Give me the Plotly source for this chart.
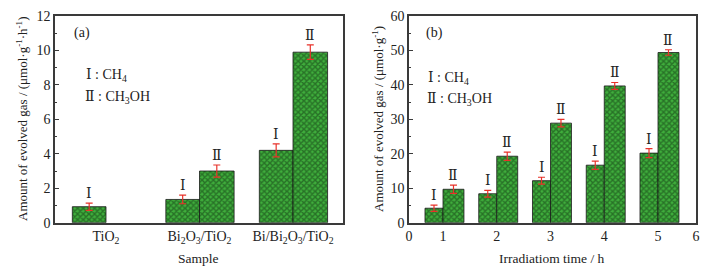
import plotly.graph_objects as go

# ---- data: panel (a)
samples = ["TiO<sub>2</sub>", "Bi<sub>2</sub>O<sub>3</sub>/TiO<sub>2</sub>", "Bi/Bi<sub>2</sub>O<sub>3</sub>/TiO<sub>2</sub>"]
a_ch4 = [0.93, 1.35, 4.2]
a_ch4_err = [0.21, 0.25, 0.38]
a_ch3oh = [None, 3.0, 9.9]
a_ch3oh_err = [0.0, 0.35, 0.42]

# ---- data: panel (b)
hours = [1, 2, 3, 4, 5]
b_ch4 = [4.2, 8.4, 12.2, 16.7, 20.2]
b_ch4_err = [0.9, 1.0, 1.0, 1.2, 1.3]
b_ch3oh = [9.7, 19.3, 28.9, 39.7, 49.4]
b_ch3oh_err = [1.2, 1.2, 1.1, 1.0, 0.8]
b_ticktext = ["0", "1", "2", "3", "4", "5", "6"]

W, H = 706, 274
FONT = "Liberation Serif, Times New Roman, serif"
NUMFONT = "DejaVu Serif, Liberation Serif, serif"
BAR_BG = "#3fae3c"
BAR_FG = "#123512"
ERR = "#e8322a"
AX = "#3a3a3a"

def px(x):
    return x / W

def py(y):
    return 1 - y / H

fig = go.Figure()

pattern = dict(shape="x", fgcolor=BAR_FG, bgcolor=BAR_BG, size=4, solidity=0.6, fillmode="overlay")

def add_bars(xs, ys, errs, offset, width, xa, ya):
    fig.add_trace(go.Bar(
        x=xs, y=ys, offset=offset, width=width,
        marker=dict(color=BAR_BG, line=dict(color="#1a1a1a", width=0.8), pattern=pattern),
        error_y=dict(type="data", array=errs, color=ERR, thickness=1.2, width=3.5, visible=True),
        xaxis=xa, yaxis=ya, showlegend=False, hoverinfo="skip",
    ))

a_pos = list(range(len(samples)))
add_bars(a_pos, a_ch4, a_ch4_err, -0.36, 0.36, "x", "y")
add_bars(a_pos, a_ch3oh, a_ch3oh_err, 0.0, 0.37, "x", "y")

b_w4 = 0.335
b_w3 = 0.39
add_bars(hours, b_ch4, b_ch4_err, -b_w4, b_w4, "x2", "y2")
add_bars(hours, b_ch3oh, b_ch3oh_err, 0.0, b_w3, "x2", "y2")

ann = []
def numeral(xref, yref, x, y, txt):
    ann.append(dict(x=x, y=y, xref=xref, yref=yref, text=txt, showarrow=False,
                    xanchor="center", yanchor="bottom", yshift=0,
                    font=dict(family=NUMFONT, size=14, color="#222")))

for i, (v, e) in enumerate(zip(a_ch4, a_ch4_err)):
    if v:
        numeral("x", "y", a_pos[i] - 0.18, v + e, "Ⅰ")
for i, (v, e) in enumerate(zip(a_ch3oh, a_ch3oh_err)):
    if v:
        numeral("x", "y", a_pos[i] + 0.185, v + e, "Ⅱ")
for h, v, e in zip(hours, b_ch4, b_ch4_err):
    numeral("x2", "y2", h - b_w4 / 2, v + e, "Ⅰ")
for h, v, e in zip(hours, b_ch3oh, b_ch3oh_err):
    numeral("x2", "y2", h + b_w3 / 2, v + e, "Ⅱ")

def txt(x, y, s, size=14, anchor="left", family=FONT, angle=0):
    ann.append(dict(x=px(x), y=py(y), xref="paper", yref="paper", text=s, showarrow=False,
                    xanchor=anchor, yanchor="middle", textangle=angle,
                    font=dict(family=family, size=size, color="#222")))

R1 = "<span style='font-family:DejaVu Serif'>Ⅰ</span>"
R2 = "<span style='font-family:DejaVu Serif'>Ⅱ</span>"
txt(72, 33, "(a)")
txt(84, 75, R1 + " : CH<sub>4</sub>")
txt(83, 97, R2 + " : CH<sub>3</sub>OH")
txt(424, 33, "(b)")
txt(426, 78, R1 + " : CH<sub>4</sub>")
txt(425, 99, R2 + " : CH<sub>3</sub>OH")

# axis titles
txt(22, 119, "Amount of evolved gas / (μmol·g<sup>-1</sup>·h<sup>-1</sup>)", size=13, anchor="center", angle=-90)
txt(378, 119, "Amount of evolved gas / (μmol·g<sup>-1</sup>)", size=13, anchor="center", angle=-90)
txt(199, 258, "Sample", size=13.5, anchor="center")
txt(552, 258, "Irradiatiom time / h", size=13.5, anchor="center")

axis_common = dict(showline=True, linecolor=AX, linewidth=1.5, mirror=True, showgrid=False, zeroline=False,
                   automargin=False, tickfont=dict(family=FONT, size=14, color="#222"))

x_left, x_right = 55, 343
spacing_a = (293 - 106) / 2
xa_range = [0 - (106 - x_left) / spacing_a, 2 + (x_right - 293) / spacing_a]

bx0, bx1 = 409, 696
spacing_b = (658 - 443) / 4
xb_range = [1 - (443 - bx0) / spacing_b, 5 + (bx1 - 658) / spacing_b]

fig.update_layout(
    template="none",
    autosize=False,
    width=W, height=H, margin=dict(l=0, r=0, t=0, b=0, pad=0, autoexpand=False),
    paper_bgcolor="white", plot_bgcolor="white",
    barmode="overlay",
    xaxis=dict(domain=[px(x_left), px(x_right)], range=xa_range, tickvals=a_pos, ticktext=samples,
               ticks="", **axis_common),
    yaxis=dict(domain=[py(222.7), py(16)], range=[0, 12], dtick=2, ticks="inside", ticklen=4,
               tickcolor=AX, tickwidth=1.2,
               minor=dict(dtick=1, ticks="inside", ticklen=2.5, tickcolor=AX, tickwidth=1),
               **axis_common),
    xaxis2=dict(domain=[px(bx0), px(bx1)], range=xb_range, anchor="y2",
                tickvals=[xb_range[0]] + hours + [xb_range[1]], ticktext=b_ticktext,
                ticks="", **axis_common),
    yaxis2=dict(domain=[py(222.7), py(16)], range=[0, 60], dtick=10, anchor="x2", ticks="inside", ticklen=4,
                tickcolor=AX, tickwidth=1.2,
                minor=dict(dtick=5, ticks="inside", ticklen=2.5, tickcolor=AX, tickwidth=1),
                **axis_common),
    annotations=ann,
)

fig.write_html("out.html", config={"displayModeBar": False},
               post_script="document.body.style.margin='0';")
